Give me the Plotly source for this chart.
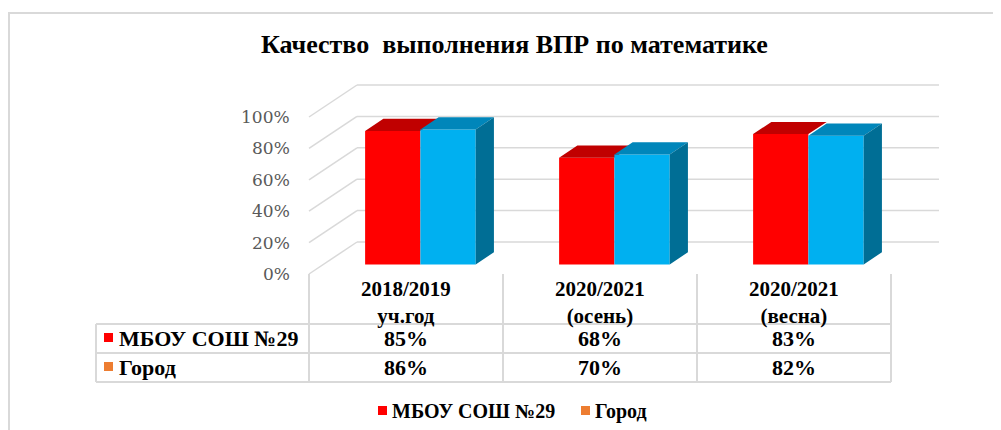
import plotly.graph_objects as go

# ---------------- data ----------------
categories_line1 = ["2018/2019", "2020/2021", "2020/2021"]
categories_line2 = ["уч.год", "(осень)", "(весна)"]
series_names = ["МБОУ СОШ №29", "Город"]
school = [85, 68, 83]
city = [86, 70, 82]
y_ticks = [0, 20, 40, 60, 80, 100]

# ---------------- geometry ----------------
PAGE_OFF = 8                      # default body margin of the html page
W, H = 1001 - PAGE_OFF, 430 - PAGE_OFF
PX_X = 194.0          # pixels per category slot
PX_Y = 1.57           # pixels per percent
X0, Y0 = 406, 274     # page pixel of category 0 centre / 0 % on the front wall


def X(p):
    return (p - X0) / PX_X


def Y(p):
    return (Y0 - p) / PX_Y


def PX(p):
    return (p - PAGE_OFF) / W


def PY(p):
    return 1 - (p - PAGE_OFF) / H


xr = [X(PAGE_OFF), X(PAGE_OFF + W)]
yr = [Y(PAGE_OFF + H), Y(PAGE_OFF)]

DX = 48 / PX_X        # depth vector front wall -> back wall (data units)
DY = 32 / PX_Y
D1 = 0.30             # depth of bar front faces
DD = 0.38             # bar depth
BW = 0.285            # bar width (slot units)

RED, RED_TOP = "#FF0000", "#C00000"
BLUE, BLUE_TOP, BLUE_SIDE = "#00B0F0", "#0086BA", "#006E95"
ORANGE = "#ED7D31"
GRID = "#D9D9D9"
SERIF = "Liberation Serif"

n = len(school)
centers = [i + D1 * DX for i in range(n)]
base = D1 * DY
ddx, ddy = DD * DX, DD * DY


def poly(pts_list):
    xs, ys = [], []
    for pts in pts_list:
        for (a, b) in pts:
            xs.append(a)
            ys.append(b)
        xs.append(pts[0][0])
        ys.append(pts[0][1])
        xs.append(None)
        ys.append(None)
    return xs, ys


fig = go.Figure()

# ---- series 1 (red) on subplot x/y ----
fig.add_trace(go.Bar(
    x=[c - BW / 2 for c in centers], y=school, base=[base] * n, width=BW,
    marker=dict(color=RED, line=dict(width=0)), name=series_names[0],
    showlegend=False, xaxis="x", yaxis="y", hoverinfo="skip"))
rt = [[(c - BW, base + v), (c, base + v), (c + ddx, base + v + ddy), (c - BW + ddx, base + v + ddy)]
      for c, v in zip(centers, school)]
xs, ys = poly(rt)
fig.add_trace(go.Scatter(x=xs, y=ys, fill="toself", fillcolor=RED_TOP, mode="none",
                         showlegend=False, xaxis="x", yaxis="y", hoverinfo="skip"))

# ---- series 2 (blue) on overlaying subplot x2/y2 ----
fig.add_trace(go.Bar(
    x=[c + BW / 2 for c in centers], y=city, base=[base] * n, width=BW,
    marker=dict(color=BLUE, line=dict(width=0)), name=series_names[1],
    showlegend=False, xaxis="x2", yaxis="y2", hoverinfo="skip"))
bt = [[(c, base + v), (c + BW, base + v), (c + BW + ddx, base + v + ddy), (c + ddx, base + v + ddy)]
      for c, v in zip(centers, city)]
xs, ys = poly(bt)
fig.add_trace(go.Scatter(x=xs, y=ys, fill="toself", fillcolor=BLUE_TOP, mode="none",
                         showlegend=False, xaxis="x2", yaxis="y2", hoverinfo="skip"))
bs = [[(c + BW, base), (c + BW + ddx, base + ddy), (c + BW + ddx, base + v + ddy), (c + BW, base + v)]
      for c, v in zip(centers, city)]
xs, ys = poly(bs)
fig.add_trace(go.Scatter(x=xs, y=ys, fill="toself", fillcolor=BLUE_SIDE, mode="none",
                         showlegend=False, xaxis="x2", yaxis="y2", hoverinfo="skip"))

shapes = []
annotations = []

# ---- walls (gridlines) ----
left = -0.5
right = n - 0.5
for t in y_ticks:
    shapes.append(dict(type="line", xref="x", yref="y", layer="below",
                       x0=left, y0=t, x1=left + DX, y1=t + DY,
                       line=dict(color=GRID, width=1.5)))
    shapes.append(dict(type="line", xref="x", yref="y", layer="below",
                       x0=left + DX, y0=t + DY, x1=right + DX, y1=t + DY,
                       line=dict(color=GRID, width=1.5)))
    annotations.append(dict(x=X(292), y=t, xref="x", yref="y", text=f"{t}%",
                            xanchor="right", yanchor="middle", showarrow=False,
                            font=dict(family="DejaVu Serif", size=17, color="#595959")))

# ---- data table ----
tab_left = X(96)
row_lines = [Y(324), Y(353), Y(382)]
for yl in row_lines:
    shapes.append(dict(type="line", xref="x", yref="y", x0=tab_left, x1=right,
                       y0=yl, y1=yl, line=dict(color=GRID, width=2)))
for xb in [left + k for k in range(n + 1)]:
    shapes.append(dict(type="line", xref="x", yref="y", x0=xb, x1=xb,
                       y0=0, y1=row_lines[-1], line=dict(color=GRID, width=2)))
shapes.append(dict(type="line", xref="x", yref="y", x0=tab_left, x1=tab_left,
                   y0=row_lines[0], y1=row_lines[-1], line=dict(color=GRID, width=2)))

tfont = dict(family=SERIF, size=22, color="#000000", weight="bold")
hfont = dict(family=SERIF, size=21, color="#000000", weight="bold")
for i in range(n):
    annotations.append(dict(x=i, y=Y(302.5), xref="x", yref="y",
                            text=f"{categories_line1[i]}<br>{categories_line2[i]}",
                            showarrow=False, font=hfont, xanchor="center", yanchor="middle",
                            align="center"))
    annotations.append(dict(x=i, y=Y(338.5), xref="x", yref="y", text=f"{school[i]}%",
                            showarrow=False, font=tfont, xanchor="center", yanchor="middle"))
    annotations.append(dict(x=i, y=Y(367.5), xref="x", yref="y", text=f"{city[i]}%",
                            showarrow=False, font=tfont, xanchor="center", yanchor="middle"))

for name, col, yc in [(series_names[0], RED, 337.5), (series_names[1], ORANGE, 366.5)]:
    shapes.append(dict(type="rect", xref="x", yref="y", x0=X(104), x1=X(113),
                       y0=Y(yc - 4.5), y1=Y(yc + 4.5), fillcolor=col, line=dict(width=0)))
    annotations.append(dict(x=X(117), y=Y(yc + 0.5), xref="x", yref="y", text=name,
                            showarrow=False, font=tfont, xanchor="left", yanchor="middle"))

# ---- legend ----
lfont = dict(family=SERIF, size=20, color="#000000", weight="bold")
for name, col, xs0 in [(series_names[0], RED, 378), (series_names[1], ORANGE, 581)]:
    shapes.append(dict(type="rect", xref="x", yref="y", x0=X(xs0), x1=X(xs0 + 9),
                       y0=Y(406), y1=Y(415), fillcolor=col, line=dict(width=0)))
    annotations.append(dict(x=X(xs0 + 12), y=Y(411), xref="x", yref="y", text=name,
                            showarrow=False, font=lfont, xanchor="left", yanchor="middle"))

# ---- title ----
annotations.append(dict(x=PX(515), y=PY(45), xref="paper", yref="paper",
                        text="Качество\u00a0 выполнения ВПР по математике",
                        showarrow=False, xanchor="center", yanchor="middle",
                        font=dict(family=SERIF, size=26, color="#000000", weight="bold")))

# ---- outer frame ----
shapes.append(dict(type="rect", xref="paper", yref="paper", x0=PX(9), x1=1.05,
                   y0=-0.05, y1=PY(13), line=dict(color=GRID, width=2)))

axis_common = dict(visible=False, fixedrange=True)
fig.update_layout(
    width=W, height=H, autosize=False,
    margin=dict(l=0, r=0, t=0, b=0),
    paper_bgcolor="white", plot_bgcolor="rgba(0,0,0,0)",
    barmode="overlay", showlegend=False,
    xaxis=dict(range=xr, **axis_common),
    yaxis=dict(range=yr, **axis_common),
    xaxis2=dict(range=xr, overlaying="x", **axis_common),
    yaxis2=dict(range=yr, overlaying="y", **axis_common),
    shapes=shapes, annotations=annotations,
)

fig.write_html("out.html", config={"displayModeBar": False})
